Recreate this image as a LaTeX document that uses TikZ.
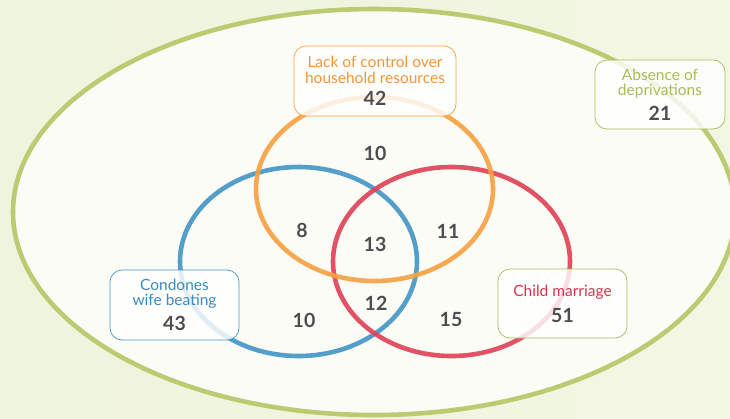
\documentclass[tikz,border=0pt]{standalone}
\usepackage{fontspec}
\setmainfont{Lato}
\definecolor{bgout}{HTML}{EFF4DC}
\definecolor{bgin}{HTML}{FBFCF6}
\definecolor{ringgreen}{HTML}{BCCB72}
\definecolor{corange}{HTML}{F7A244}
\definecolor{cblue}{HTML}{4698C6}
\definecolor{cred}{HTML}{DE4458}
\definecolor{torange}{HTML}{F39638}
\definecolor{tgreen}{HTML}{A8BC58}
\definecolor{tblue}{HTML}{3A8BBE}
\definecolor{tred}{HTML}{D9344B}
\definecolor{numgray}{HTML}{4D4D4F}
\newcommand\vnum[1]{{\fontsize{19.5}{19.5}\selectfont\bfseries\color{numgray}#1}}
\begin{document}
\begin{tikzpicture}[x=1pt,y=-1pt,
  labelbox/.style={draw=#1, line width=0.7pt, rounded corners=12pt, fill=white, fill opacity=0.82, text opacity=1,
    align=center, minimum width=129pt, minimum height=69pt, inner sep=2pt,
    font=\fontsize{15.5}{15.5}\selectfont},
  ring/.style={draw=#1, line width=4.6pt, draw opacity=0.92},
  numlabel/.style={text=numgray, font=\fontsize{19.5}{19.5}\selectfont\bfseries, inner sep=0pt}]
\useasboundingbox (0,0) rectangle (730,418);
\fill[left color=bgout, right color=bgout!80!white] (0,0) rectangle (730,418);
\draw[draw=ringgreen, line width=4.6pt, fill=bgin] (374,212) ellipse [x radius=361pt, y radius=203pt];
\draw[ring=cblue] (298.5,261.5) ellipse [x radius=118.5pt, y radius=94.5pt];
\draw[ring=cred] (451.5,261.5) ellipse [x radius=118.5pt, y radius=94.5pt];
\draw[ring=corange] (374.5,189) ellipse [x radius=118.5pt, y radius=92pt];
\node[labelbox=corange, text=torange, minimum width=162pt, minimum height=70pt] (lack) at (375,81)
  {Lack of control over\\household resources\\[7pt]\vnum{42}};
\node[labelbox=tgreen, text=tgreen, minimum width=130pt] (absence) at (660,94.5)
  {Absence of\\deprivations\\[7pt]\vnum{21}};
\node[labelbox=cblue, text=tblue, minimum height=70pt] (condones) at (174.5,305)
  {Condones\\wife beating\\[7pt]\vnum{43}};
\node[labelbox=tgreen, text=tred] (child) at (562.5,303.5)
  {Child marriage\\[8pt]\vnum{51}};
\node[numlabel] (n10a) at (375,153) {10};
\node[numlabel] (n8) at (302,230) {8};
\node[numlabel] (n13) at (375,244) {13};
\node[numlabel] (n11) at (448,231) {11};
\node[numlabel] (n10b) at (304,320) {10};
\node[numlabel] (n12) at (376,303) {12};
\node[numlabel] (n15) at (451,320) {15};
\end{tikzpicture}
\end{document}
